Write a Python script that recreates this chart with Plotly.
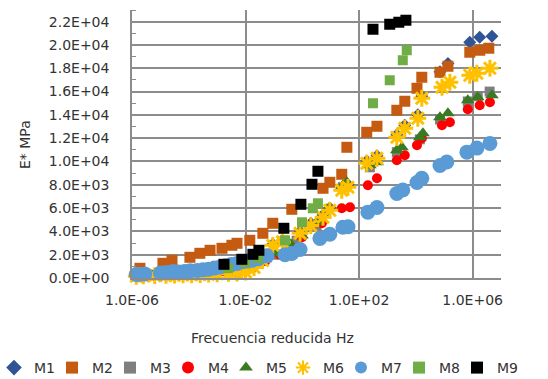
import plotly.graph_objects as go

# Reduced frequency given as log10(Hz); dynamic modulus |E*| in MPa
m1_logf = [-5.85, -5.6, -5.2, -4.8, -4.5, -4.2, -3.9, -3.6, -3.3, -3.0, -2.6, -2.3, -2.0, -1.7, -1.4, -1.04, -0.7, -0.08, 0.3, 0.73, 0.97, 1.39, 1.61, 2.27, 2.63, 3.33, 3.61, 4.07, 4.21, 4.85, 5.13, 5.9, 6.25, 6.68]
m1_e = [170, 200, 220, 240, 260, 280, 300, 330, 360, 400, 440, 480, 550, 950, 1550, 2900, 3250, 4000, 4700, 5400, 6000, 7700, 8000, 10050, 10500, 12300, 13100, 14000, 15600, 17700, 18400, 20233, 20662, 20748]

m2_logf = [-5.72, -4.91, -4.59, -3.96, -3.61, -3.25, -2.83, -2.48, -2.30, -1.85, -1.39, -1.04, -0.37, 0.73, 0.97, 1.39, 1.57, 2.27, 2.63, 3.33, 3.61, 4.04, 4.21, 4.85, 5.13, 5.90, 6.25, 6.57]
m2_e = [833, 1262, 1519, 1777, 2120, 2378, 2549, 2807, 2979, 3236, 3837, 4696, 5897, 7700, 8215, 8902, 11219, 12507, 13022, 14395, 15168, 16284, 17228, 17658, 18173, 19375, 19546, 19718]

m3_logf = [-5.8, -5.0, -4.2, -3.4, -2.6, -1.8, -1.0, -0.2, 0.5, 1.43, 2.38, 3.33, 4.14, 4.85, 5.83, 6.18, 6.6]
m3_e = [180, 260, 340, 450, 620, 1100, 2000, 3200, 4500, 7800, 9500, 10800, 11900, 13600, 15150, 15600, 16000]

m4_logf = [-5.8, -5.3, -4.8, -4.3, -3.8, -3.3, -2.8, -2.3, -1.8, -1.3, -0.8, -0.4, -0.01, 0.69, 1.39, 1.68, 2.31, 2.63, 3.33, 3.61, 4.04, 4.21, 4.92, 5.20, 5.83, 6.25, 6.61]
m4_e = [180, 220, 270, 330, 400, 480, 600, 780, 1050, 1450, 2000, 2700, 3494, 4696, 5983, 6069, 7957, 8558, 10103, 10533, 11391, 11992, 13108, 13365, 14481, 14825, 15082]

m5_logf = [-5.8, -5.3, -4.8, -4.3, -3.8, -3.3, -2.8, -2.3, -1.8, -1.3, -0.9, -0.4, -0.01, 0.51, 0.87, 1.43, 1.57, 2.38, 2.63, 3.33, 3.51, 4.14, 4.25, 4.85, 5.13, 5.83, 6.18, 6.68]
m5_e = [200, 250, 300, 360, 430, 520, 650, 850, 1150, 1600, 2100, 2900, 3650, 4800, 5900, 7957, 8215, 9674, 9932, 10962, 11219, 12078, 12421, 13794, 14138, 15254, 15511, 15683]

m6_logf = [-5.85, -5.6, -5.2, -4.8, -4.5, -4.2, -3.9, -3.6, -3.3, -3.0, -2.6, -2.3, -2.0, -1.7, -1.4, -1.04, -0.7, -0.08, 0.3, 0.73, 0.97, 1.39, 1.61, 2.27, 2.63, 3.33, 3.61, 4.07, 4.21, 4.92, 5.20, 5.90, 6.15, 6.61]
m6_e = [150, 180, 200, 220, 240, 260, 280, 300, 330, 360, 400, 430, 500, 900, 1500, 2807, 3100, 3837, 4500, 5211, 5811, 7528, 7786, 9846, 10275, 12078, 12850, 13709, 15425, 16369, 16799, 17400, 17572, 18001]

m7_logf = [-5.85, -5.72, -5.55, -5.0, -4.85, -4.70, -4.55, -4.35, -4.15, -3.95, -3.70, -3.50, -3.30, -3.10, -2.90, -2.70, -2.50, -2.30, -2.13, -1.95, -1.77, -1.55, -1.25, -0.61, -0.37, -0.08, 0.62, 0.97, 1.43, 1.61, 2.31, 2.63, 3.33, 3.54, 4.04, 4.21, 4.85, 5.09, 5.80, 6.15, 6.61]
m7_e = [300, 320, 350, 420, 450, 480, 560, 520, 560, 620, 650, 700, 760, 850, 950, 1050, 1150, 1250, 1400, 1450, 1520, 1650, 1900, 2000, 2100, 2450, 3400, 3750, 4350, 4400, 5650, 6050, 7250, 7550, 8200, 8550, 9650, 9950, 10800, 11150, 11550]

m8_logf = [-2.62, -2.02, -1.56, -0.61, -0.01, 0.37, 0.55, 2.49, 3.08, 3.54, 3.68]
m8_e = [850, 1350, 1700, 3236, 4782, 5983, 6412, 14996, 16971, 18688, 19546]

m9_logf = [-2.76, -2.13, -1.74, -1.53, -0.65, -0.05, 0.34, 0.55, 2.49, 3.08, 3.40, 3.65]
m9_e = [1176, 1605, 2034, 2378, 4267, 6327, 8043, 9160, 21349, 21778, 21950, 22122]

series_names = ["M1", "M2", "M3", "M4", "M5", "M6", "M7", "M8", "M9"]

x_tick_vals = [1e-6, 1e-2, 1e2, 1e6]
x_tick_text = ["1.0E-06", "1.0E-02", "1.0E+02", "1.0E+06"]
y_tick_vals = [0, 2000, 4000, 6000, 8000, 10000, 12000, 14000, 16000, 18000, 20000, 22000]
y_tick_text = ["0.0E+00", "2.0E+03", "4.0E+03", "6.0E+03", "8.0E+03", "1.0E+04",
               "1.2E+04", "1.4E+04", "1.6E+04", "1.8E+04", "2.0E+04", "2.2E+04"]

data = [
    (m1_logf, m1_e), (m2_logf, m2_e), (m3_logf, m3_e),
    (m4_logf, m4_e), (m5_logf, m5_e), (m6_logf, m6_e),
    (m7_logf, m7_e), (m8_logf, m8_e), (m9_logf, m9_e),
]

markers = [
    dict(symbol="diamond", size=10, color="#2F5597"),
    dict(symbol="square", size=11, color="#C55A11"),
    dict(symbol="square", size=10, color="#7F7F7F"),
    dict(symbol="circle", size=10, color="#FF0000"),
    dict(symbol="triangle-up", size=12, color="#3A7A22"),
    dict(symbol="asterisk-open", size=14, color="#FFC000", line=dict(color="#FFC000", width=3)),
    dict(symbol="circle", size=15, color="#5B9BD5"),
    dict(symbol="square", size=10, color="#70AD47"),
    dict(symbol="square", size=11, color="#000000"),
]

FONT = "DejaVu Sans"
GRID = "#8C8C8C"
TXT = "#333333"

fig = go.Figure()
for i, (name, (logf, e), mk) in enumerate(zip(series_names, data, markers)):
    line = mk.get("line", dict(width=0))
    style = {k: v for k, v in mk.items() if k != "line"}
    last_in_box = i in (4, 8)
    fig.add_trace(go.Scatter(
        x=[10 ** v for v in logf], y=e, name=name, mode="markers",
        marker=dict(line=line, **style),
        cliponaxis=False,
        # the key row is split over two legend boxes so it stays on one line
        legend="legend" if i < 5 else "legend2",
        legendwidth=28 if last_in_box else None,
    ))

W, H = 548, 379
L, R, T, B = 132, 47, 10, 101
pw, ph = W - L - R, H - T - B

legend_style = dict(
    orientation="h", xanchor="left",
    y=(T + ph - 368) / ph, yanchor="middle",
    itemsizing="constant", itemwidth=30, entrywidth=13, entrywidthmode="pixels",
    font=dict(family=FONT, size=14, color=TXT),
    bgcolor="rgba(0,0,0,0)",
)

fig.update_layout(
    width=W, height=H,
    margin=dict(l=L, r=R, t=T, b=B, autoexpand=False),
    paper_bgcolor="white", plot_bgcolor="white",
    font=dict(family=FONT, size=14, color=TXT),
    showlegend=True,
    legend=dict(x=(-6 - L) / pw, **legend_style),
    legend2=dict(x=(283 - L) / pw, **legend_style),
    xaxis=dict(
        type="log", range=[-6, 7.0],
        tickvals=x_tick_vals, ticktext=x_tick_text,
        showgrid=True, gridcolor=GRID, gridwidth=1.5,
        showline=True, linecolor=GRID, linewidth=1.5,
        ticks="", zeroline=False, ticklabelstandoff=8,
        tickfont=dict(family=FONT, size=14, color=TXT),
    ),
    yaxis=dict(
        range=[0, 23000],
        tickvals=y_tick_vals, ticktext=y_tick_text,
        showgrid=True, gridcolor=GRID, gridwidth=1.5,
        showline=True, linecolor=GRID, linewidth=1.5,
        ticks="", zeroline=False, ticklabelstandoff=18,
        tickfont=dict(family=FONT, size=14, color=TXT),
        minor=dict(dtick=1000, tick0=0, ticks="inside", ticklen=4, tickcolor=GRID,
                   tickwidth=1.2, showgrid=False),
    ),
    annotations=[
        dict(text="E* MPa", xref="paper", yref="paper", x=(25 - L) / pw, y=0.5,
             textangle=-90, showarrow=False, xanchor="center", yanchor="middle",
             font=dict(family=FONT, size=14, color=TXT)),
        dict(text="Frecuencia reducida Hz", xref="paper", yref="paper",
             x=(272 - L) / pw, y=(T + ph - 338) / ph, showarrow=False,
             xanchor="center", yanchor="middle",
             font=dict(family=FONT, size=14, color=TXT)),
    ],
)

fig.write_html("out.html")
